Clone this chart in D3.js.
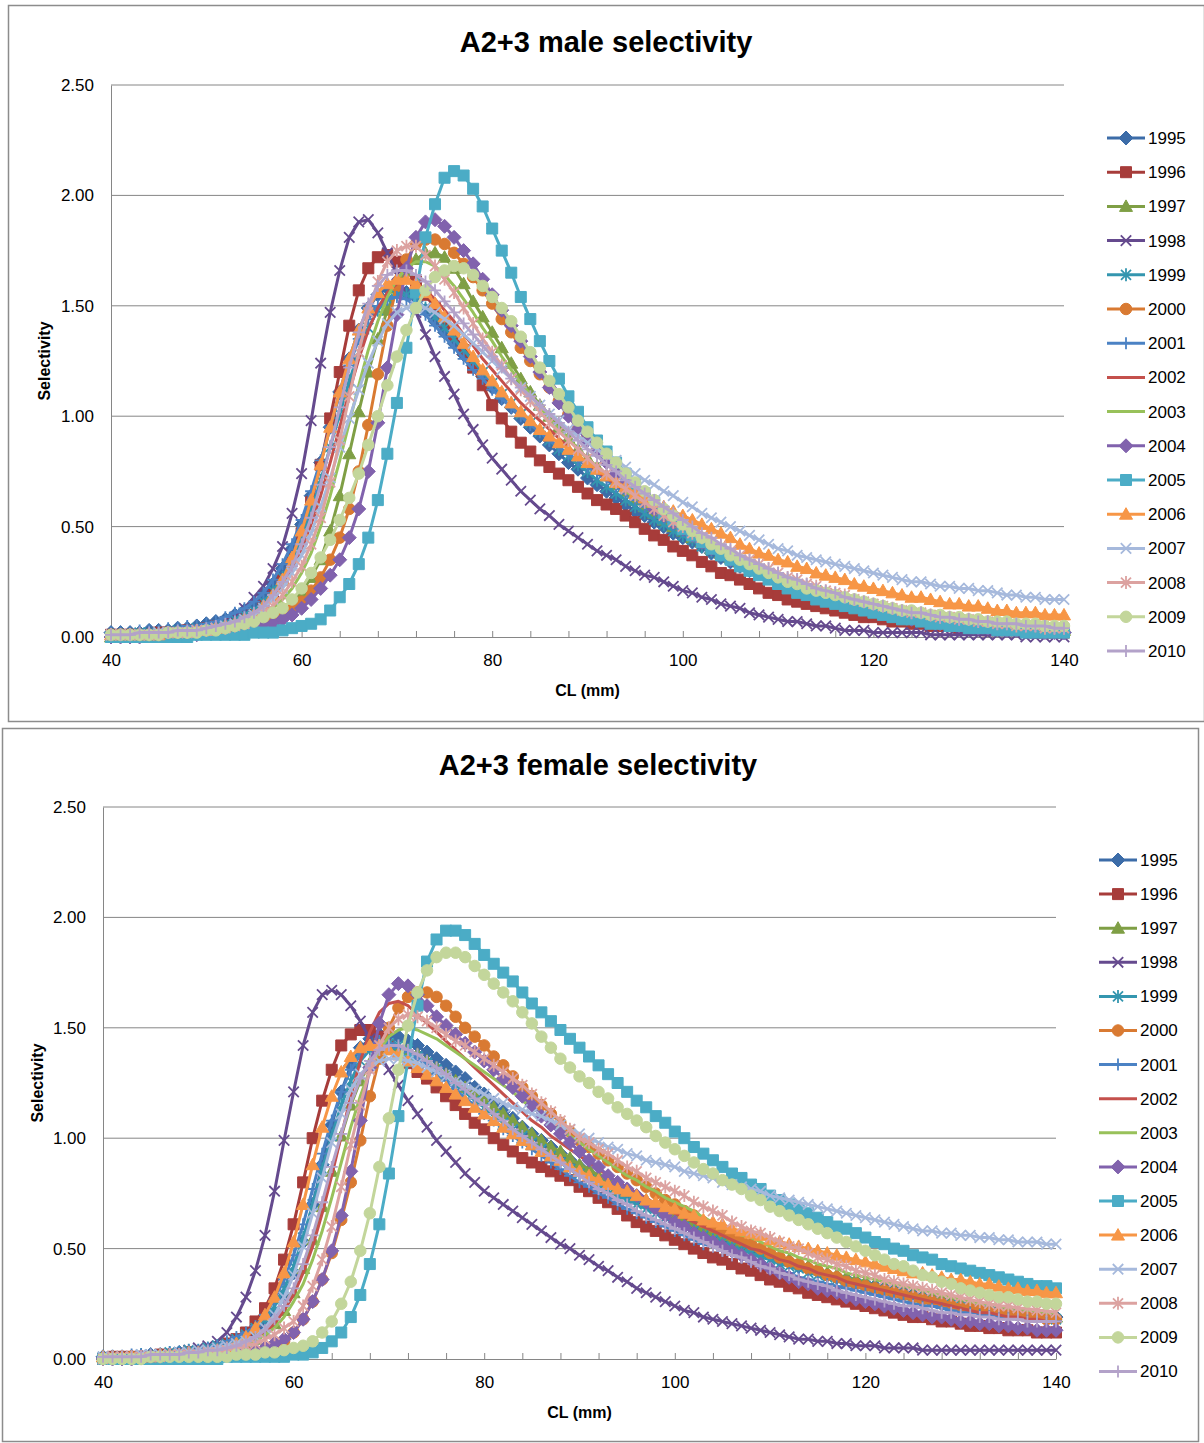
<!DOCTYPE html>
<html>
<head>
<meta charset="utf-8">
<script src="https://cdn.jsdelivr.net/npm/d3@7"></script>
<style>
body { margin:0; padding:0; background:#fff; overflow:hidden; }
svg text { font-family:'Liberation Sans', Arial, sans-serif; fill:#000; }
</style>
</head>
<body>
<svg id="chart" width="1204" height="1443"></svg>
<script>
// ===== categories / ticks =====
const lengths = d3.range(40, 141);                 // CL (mm), one point per mm
const years = [1995,1996,1997,1998,1999,2000,2001,2002,2003,2004,2005,2006,2007,2008,2009,2010];
const yTicks = [0, 0.5, 1, 1.5, 2, 2.5];
const xTickLabels = [40, 60, 80, 100, 120, 140];
const xMinorTicks = d3.range(40, 141, 4);

// ===== male selectivity (x100), CL 40..140 =====
const m1995 = [2,2,2,2,3,3,3,4,4,5, 6,7,8,10,12,15,19,24,31,40, 51,64,79,95,111,126,139,149,155,158, 158,156,152,148,143,138,133,128,123,118, 113,108,104,99,95,91,87,83,79,76, 72,69,66,63,60,57,55,52,50,47, 45,43,41,38,36,34,32,30,29,27, 25,24,22,21,19,18,17,16,15,14, 13,12,11,10,9,9,8,7,7,6, 6,5,5,4,4,4,3,3,3,3, 2];
const m1996 = [1,1,1,1,1,2,2,2,3,3, 4,5,6,7,8,10,14,19,26,35, 47,61,78,99,120,141,157,167,172,173, 170,166,161,155,149,143,137,130,122,114, 105,99,93,88,84,80,77,74,71,68, 65,62,60,58,55,52,49,46,44,41, 39,37,34,32,29,28,26,24,22,20, 19,17,16,15,14,13,12,11,10,9, 9,8,7,7,6,6,5,5,5,4, 4,4,3,3,3,3,3,2,2,2, 2];
const m1997 = [0,1,1,1,1,1,1,1,2,2, 2,3,3,4,5,6,8,10,13,16, 20,27,35,48,64,83,102,120,135,148, 158,166,171,174,174,172,167,160,152,145, 138,131,124,117,111,105,100,95,90,85, 81,77,73,69,66,62,59,56,53,50, 48,45,43,40,38,36,34,32,30,28, 26,25,23,22,20,19,18,17,16,15, 14,13,12,11,10,9,9,8,7,7, 6,6,5,5,5,4,4,4,3,3, 3];
const m1998 = [0,0,1,1,1,1,2,2,2,3, 4,5,7,9,13,18,23,31,41,56, 74,98,124,147,166,181,188,189,183,174, 164,155,147,137,127,118,110,101,94,87, 81,76,71,66,62,58,55,51,48,45, 42,39,37,35,32,30,28,27,25,23, 21,20,18,17,15,14,13,11,10,9, 8,7,7,6,5,5,4,3,3,3, 2,2,2,2,2,2,1,1,1,1, 1,1,1,1,1,1,0,0,0,0, 0];
const m1999 = [1,1,1,2,2,2,2,3,3,4, 4,5,6,8,10,12,16,21,27,35, 45,57,71,86,101,116,129,140,148,153, 155,155,153,149,145,140,135,130,125,120, 115,110,106,101,97,93,89,85,82,78, 75,71,68,65,62,59,56,53,51,48, 46,44,41,39,37,35,33,31,30,28, 26,25,23,22,21,19,18,17,16,15, 14,13,12,11,10,10,9,8,8,7, 6,6,6,5,5,4,4,4,3,3, 3];
const m2000 = [0,1,1,1,1,1,1,1,1,2, 2,2,3,3,4,5,6,8,10,13, 16,21,27,35,45,58,75,96,119,141, 159,171,178,180,180,178,174,169,163,157, 151,144,138,131,125,119,113,107,101,96, 91,86,81,77,72,68,64,60,57,53, 50,47,44,42,39,37,34,32,30,28, 26,25,23,21,20,19,17,16,15,14, 13,12,11,10,10,9,8,8,7,7, 6,6,5,5,5,4,4,4,3,3, 3];
const m2001 = [2,2,2,3,3,3,4,4,5,5, 6,7,9,11,13,16,20,26,33,42, 53,66,80,95,110,123,135,144,150,153, 154,153,150,146,141,136,131,126,121,117, 112,108,104,100,96,93,89,86,83,80, 77,74,71,68,65,62,59,56,54,51, 48,46,44,41,39,37,35,33,31,29, 27,26,24,23,21,20,19,17,16,15, 14,13,12,11,11,10,9,8,8,7, 7,6,6,5,5,5,4,4,4,3, 3];
const m2002 = [1,1,1,1,2,2,2,2,3,3, 4,4,5,7,8,11,14,18,24,31, 40,51,64,79,95,111,126,139,149,156, 160,161,160,157,153,148,143,137,132,126, 121,116,111,106,102,98,94,90,86,82, 79,75,72,69,66,63,60,57,54,52, 49,47,44,42,40,38,36,34,32,30, 28,27,25,24,22,21,20,18,17,16, 15,14,13,12,11,11,10,9,8,8, 7,7,6,6,5,5,5,4,4,4, 3];
const m2003 = [1,1,1,1,1,1,1,2,2,2, 3,3,4,5,6,8,10,13,17,22, 29,38,50,64,80,97,114,130,143,154, 162,167,170,170,168,164,159,153,147,140, 134,127,121,115,110,104,99,94,90,85, 81,77,73,70,66,63,60,57,54,51, 48,46,43,41,39,37,35,33,31,29, 27,26,24,23,21,20,19,18,17,16, 15,14,13,12,11,10,10,9,8,8, 7,7,6,6,5,5,5,4,4,4, 4];
const m2004 = [0,0,0,0,1,1,1,1,1,1, 2,2,2,3,3,4,5,6,8,10, 13,17,22,28,35,45,58,75,97,122, 146,167,181,188,189,186,181,175,169,162, 155,148,141,134,127,120,113,106,100,94, 89,84,79,74,70,66,62,58,55,52, 49,46,43,40,38,35,33,31,29,27, 25,23,22,20,19,17,16,15,14,13, 12,11,10,9,8,8,7,6,6,5, 5,4,4,4,3,3,3,3,2,2, 2];
const m2005 = [0,0,0,0,0,0,0,0,0,1, 1,1,1,1,1,2,2,2,3,4, 5,6,8,12,18,24,33,45,62,83, 106,131,156,181,196,208,211,209,203,195, 185,175,165,154,144,134,125,117,109,102, 95,89,84,79,74,69,65,61,56,53, 49,46,43,40,37,35,32,30,28,26, 24,22,20,19,17,16,15,14,13,12, 11,10,9,8,8,7,6,6,5,5, 4,4,4,3,3,3,2,2,2,2, 2];
const m2006 = [1,1,1,1,1,1,2,2,2,3, 3,4,5,6,8,10,14,19,26,36, 48,62,78,95,111,126,139,149,156,160, 162,162,160,156,151,145,139,133,127,121, 116,111,106,102,98,94,91,88,85,82, 79,76,73,70,68,65,63,61,59,57, 55,53,51,49,47,45,42,40,38,37, 35,34,32,31,29,28,27,26,24,23, 22,21,20,19,18,18,17,16,15,15, 14,14,13,12,12,11,11,11,10,10, 10];
const m2007 = [1,1,1,1,1,2,2,2,2,3, 3,4,5,6,8,10,13,17,22,29, 37,47,59,72,86,99,112,124,134,142, 147,149,150,149,147,144,141,137,133,129, 125,121,117,113,109,105,101,98,94,91, 88,85,82,80,77,74,71,69,66,64, 61,59,56,54,52,50,48,46,44,42, 40,39,37,36,35,34,33,32,31,30, 29,28,27,26,25,25,24,23,23,22, 22,21,21,20,19,19,18,18,17,17, 17];
const m2008 = [1,1,1,1,1,1,2,2,2,3, 3,4,4,5,6,8,11,14,19,25, 32,42,54,70,89,109,129,147,161,170, 175,177,177,173,168,162,156,149,142,135, 129,123,117,112,107,102,97,93,89,85, 81,77,74,70,67,64,61,58,55,52, 50,47,45,43,41,39,37,35,33,31, 29,27,26,24,23,21,20,19,17,16, 15,14,13,12,11,11,10,9,9,8, 8,7,7,6,6,5,5,5,4,4, 4];
const m2009 = [1,1,1,1,1,1,2,2,2,2, 3,3,4,5,6,7,9,11,13,17, 22,29,36,44,53,63,74,87,100,114, 127,139,149,157,163,166,168,167,164,159, 154,149,143,136,129,122,116,110,104,98, 93,88,83,79,74,70,66,62,58,55, 51,48,45,42,40,37,35,33,31,29, 27,25,24,22,21,20,19,18,17,16, 15,14,13,12,12,11,10,10,9,9, 8,8,7,7,7,6,6,6,5,5, 5];
const m2010 = [1,1,1,2,2,2,2,3,3,3, 4,5,6,7,9,11,14,19,25,32, 42,54,69,86,104,122,138,151,159,164, 166,166,164,161,157,152,147,142,137,132, 127,122,117,113,109,105,101,97,93,89, 85,82,78,75,71,68,65,62,59,56, 53,50,47,45,42,40,37,35,33,31, 29,27,26,24,22,21,20,18,17,16, 15,14,13,12,11,11,10,9,9,8, 8,7,7,6,6,6,5,5,5,4, 4];

// ===== female selectivity (x100), CL 40..140 =====
const f1995 = [1,1,1,1,1,2,2,2,3,3, 3,3,4,4,5,7,10,14,20,28, 39,53,70,88,106,121,133,141,145,147, 147,146,144,142,139,136,133,130,127,123, 120,116,112,109,105,102,99,96,93,90, 87,84,81,79,76,74,72,70,68,66, 64,62,60,58,56,54,53,51,50,48, 47,45,44,42,41,40,38,37,36,35, 34,33,32,31,30,29,28,27,26,25, 25,24,23,22,22,21,21,20,20,19, 19];
const f1996 = [0,1,1,1,1,1,2,2,2,3, 3,4,5,7,9,12,17,23,32,45, 61,80,100,117,131,142,147,149,149,146, 142,138,134,130,127,123,119,115,111,107, 104,100,97,94,91,89,87,85,83,81, 78,76,73,71,68,65,62,60,58,56, 54,52,50,48,46,45,43,41,40,38, 36,35,33,32,30,29,28,27,26,25, 24,23,22,21,20,19,19,18,17,17, 16,15,15,14,14,13,13,13,12,12, 12];
const f1997 = [1,1,1,1,1,1,2,2,2,2, 3,3,4,5,6,7,9,12,16,22, 30,41,54,69,85,101,115,126,134,139, 141,141,140,138,135,132,129,126,123,120, 117,114,111,108,105,102,99,96,94,91, 88,86,83,81,78,76,74,72,70,68, 66,64,62,60,58,56,54,53,51,49, 48,46,45,43,42,41,39,38,37,36, 35,33,32,31,30,29,28,28,27,26, 25,24,24,23,22,22,21,21,20,20, 19];
const f1998 = [0,0,1,1,1,1,2,2,3,4, 5,6,8,12,19,28,40,56,76,99, 121,142,157,165,167,165,160,153,145,138, 131,124,117,111,105,99,94,89,84,80, 76,73,70,67,64,61,58,55,52,50, 47,45,42,40,37,35,32,30,28,26, 24,22,21,19,18,17,16,15,14,13, 12,11,10,9,9,8,8,7,7,6, 6,6,5,5,5,5,4,4,4,4, 4,4,4,4,4,4,4,4,4,4, 4];
const f1999 = [1,1,1,1,2,2,2,3,3,4, 4,5,6,7,9,11,14,18,24,32, 42,55,70,86,101,115,126,135,140,143, 143,142,140,137,134,131,128,124,121,117, 114,110,107,104,101,98,95,92,89,86, 84,81,79,76,74,72,70,68,66,64, 62,60,58,56,54,53,51,49,48,46, 45,43,42,41,39,38,37,36,35,34, 33,32,31,30,29,28,27,26,25,25, 24,23,22,22,21,21,20,20,19,19, 18];
const f2000 = [0,0,0,1,1,1,1,1,1,1, 1,1,2,2,2,3,3,4,6,8, 12,18,26,36,48,63,80,99,119,136, 150,159,164,166,166,164,160,155,150,146, 142,137,133,128,123,119,115,111,107,103, 99,96,93,90,87,84,81,78,75,72, 70,67,65,62,60,58,56,54,52,50, 48,46,44,43,41,40,38,37,35,34, 33,32,31,30,29,28,27,26,25,24, 23,23,22,21,21,20,20,19,19,18, 18];
const f2001 = [1,1,1,2,2,2,2,3,3,4, 4,5,6,8,10,12,15,20,27,36, 47,61,77,93,108,121,131,138,142,144, 143,141,139,136,133,129,126,122,118,115, 111,108,104,101,98,95,92,89,86,83, 80,78,75,73,70,68,66,64,62,60, 58,56,54,52,51,49,47,46,44,43, 41,40,39,37,36,35,34,33,32,31, 30,29,28,27,26,25,24,24,23,22, 21,21,20,20,19,19,18,18,17,17, 17];
const f2002 = [0,1,1,1,1,1,1,2,2,2, 3,3,4,5,6,7,9,12,16,22, 29,39,51,66,83,101,119,135,148,157, 161,162,160,156,152,148,144,140,136,132, 128,124,120,116,112,108,105,101,98,95, 92,89,86,83,80,78,75,73,70,68, 66,64,62,60,58,56,54,52,50,49, 47,45,44,42,41,39,38,37,35,34, 33,32,31,30,29,28,27,26,25,24, 23,22,21,21,20,19,19,18,18,17, 17];
const f2003 = [0,1,1,1,1,1,1,2,2,2, 3,3,4,4,5,7,8,11,14,19, 26,34,45,58,73,89,105,119,131,140, 146,149,150,149,147,145,142,139,136,133, 130,127,124,121,117,114,111,108,104,101, 98,95,92,89,86,83,81,78,76,73, 71,69,67,64,62,60,58,56,55,53, 51,49,48,46,45,43,42,41,39,38, 37,36,35,34,33,32,31,30,29,28, 27,26,25,25,24,23,23,22,22,21, 21];
const f2004 = [0,0,0,0,1,1,1,1,1,1, 1,2,2,2,3,3,4,5,7,9, 12,18,26,36,49,65,85,108,132,152, 165,170,169,165,160,155,151,147,143,139, 135,131,127,123,119,115,110,106,102,98, 94,90,87,83,80,77,74,71,68,65, 62,60,57,55,53,51,49,47,45,43, 41,39,37,35,34,32,31,30,28,27, 26,25,24,23,22,21,20,19,19,18, 17,17,16,16,15,15,14,14,13,13, 13];
const f2005 = [0,0,0,0,0,0,0,0,0,0, 0,0,0,1,1,1,1,1,1,1, 2,2,3,5,8,12,19,29,43,61, 84,110,135,160,180,190,194,194,192,188, 183,179,175,171,166,161,157,153,149,145, 141,137,133,129,125,121,117,114,110,107, 103,100,96,93,90,87,84,82,79,77, 74,72,70,68,66,64,62,60,59,57, 55,53,52,50,49,47,46,45,43,42, 41,40,39,38,37,36,35,34,33,33, 32];
const f2006 = [1,1,1,1,1,1,2,2,2,3, 3,3,4,5,7,10,14,20,28,39, 53,70,88,105,119,130,137,141,142,142, 140,138,135,132,129,126,123,120,117,114, 111,108,105,102,99,97,94,92,90,87, 85,83,81,79,77,76,74,72,71,69, 68,66,65,63,62,61,59,58,57,56, 54,53,52,51,50,49,48,47,46,45, 44,43,42,41,40,39,39,38,37,36, 36,35,34,34,33,32,32,31,31,30, 30];
const f2007 = [1,1,1,1,2,2,2,2,3,3, 4,4,5,6,7,8,10,14,20,28, 38,51,66,82,98,111,122,129,133,135, 136,136,135,134,132,130,128,126,124,122, 120,118,116,114,113,111,110,108,106,104, 102,100,98,96,95,93,92,90,89,88, 87,85,84,83,82,80,79,78,77,76, 74,73,72,71,70,69,68,67,66,65, 64,63,62,61,60,59,58,58,57,57, 56,56,55,55,54,54,53,53,53,52, 52];
const f2008 = [0,1,1,1,1,1,1,2,2,2, 2,3,3,4,5,6,7,9,11,14, 17,24,33,45,60,78,97,115,131,142, 150,154,156,155,153,150,147,144,142,139, 136,133,130,127,124,120,116,112,108,104, 100,98,95,93,90,87,85,82,80,78, 76,74,71,69,67,65,62,60,58,57, 55,53,51,50,48,46,45,43,42,40, 39,38,36,35,34,33,32,31,30,29, 28,27,26,25,24,24,23,23,22,22, 21];
const f2009 = [0,0,0,0,0,1,1,1,1,1, 1,1,1,1,2,2,2,3,3,4, 5,6,8,12,17,25,35,49,66,87, 109,131,151,166,176,182,184,184,182,178, 174,170,166,162,157,152,146,141,136,132, 128,125,121,118,114,111,108,105,101,98, 95,92,89,86,84,81,79,77,74,72, 69,67,65,63,61,59,57,55,53,51, 49,47,45,43,42,40,38,37,35,34, 32,31,30,29,28,28,27,26,26,25, 25];
const f2010 = [1,1,1,1,1,2,2,2,2,3, 3,4,4,5,6,8,10,13,18,24, 32,43,56,71,87,102,116,127,135,140, 142,142,140,138,135,132,129,125,122,118, 115,111,108,104,101,98,95,92,89,86, 83,80,77,75,72,70,67,65,63,61, 59,57,55,53,51,49,47,46,44,42, 41,39,38,36,35,34,33,31,30,29, 28,27,26,25,24,24,23,22,21,21, 20,20,19,19,18,18,18,17,17,17, 17];

const maleSeries   = [m1995,m1996,m1997,m1998,m1999,m2000,m2001,m2002,m2003,m2004,m2005,m2006,m2007,m2008,m2009,m2010];
const femaleSeries = [f1995,f1996,f1997,f1998,f1999,f2000,f2001,f2002,f2003,f2004,f2005,f2006,f2007,f2008,f2009,f2010];

// ===== style =====
const colors  = ['#3C6CA8','#A73C3A','#7F9F45','#654A8E','#3496AF','#D97A32','#4B82C4','#C4504C',
                 '#98C15A','#8162AD','#4BACC6','#F79646','#A6B9DC','#DCA2A0','#C3D69B','#B3A2C9'];
const markers = ['diamond','square','triangle','x','star','circle','plus','none',
                 'none','diamond','square','triangle','x','star','circle','plus'];
const gridColor = '#868686';

[maleSeries, femaleSeries].forEach(s => s.forEach((a, i) => {
  if (a.length !== lengths.length) console.error('bad length', years[i], a.length);
}));

const markerPath = t => {
  switch (t) {
    case 'diamond':  return 'M0,-7L7,0L0,7L-7,0Z';
    case 'square':   return 'M-5.5,-5.5H5.5V5.5H-5.5Z';
    case 'triangle': return 'M0,-6.5L6.5,5H-6.5Z';
    case 'circle':   return d3.symbol(d3.symbolCircle, Math.PI * 33)();
    case 'x':        return 'M-5.2,-5.2L5.2,5.2M-5.2,5.2L5.2,-5.2';
    case 'star':     return 'M-5,-5L5,5M-5,5L5,-5M0,-6.5V6.5';
    case 'plus':     return 'M0,-6V6M-6,0H6';
  }
  return null;
};
const isOpen = t => t === 'x' || t === 'star' || t === 'plus';

const svg = d3.select('#chart');
svg.append('rect').attr('width', 1204).attr('height', 1443).attr('fill', '#fff');

const panels = [
  { title:'A2+3 male selectivity', data:maleSeries, box:[8.5,5.5,1196,716],
    left:111, right:1064, top:85, bottom:637, titleX:606, titleY:42,
    legendX:1107, legendY:138, legendStep:34.2, yTitleX:44, xTitleY:690 },
  { title:'A2+3 female selectivity', data:femaleSeries, box:[2.5,728.5,1196,713],
    left:103, right:1056, top:807, bottom:1359, titleX:598, titleY:765,
    legendX:1099, legendY:860, legendStep:34.1, yTitleX:37, xTitleY:1412 }
];

const drawPanel = p => {
  const g = svg.append('g');
  const x = d3.scaleLinear().domain([40, 140]).range([p.left, p.right]);
  const y = d3.scaleLinear().domain([0, 2.5]).range([p.bottom, p.top]);

  // outer frame
  g.append('rect').attr('x', p.box[0]).attr('y', p.box[1]).attr('width', p.box[2]).attr('height', p.box[3])
    .attr('fill', 'none').attr('stroke', '#8c8c8c').attr('stroke-width', 1.5);

  // title
  g.append('text').attr('x', p.titleX).attr('y', p.titleY).attr('dy', '.35em')
    .attr('text-anchor', 'middle').attr('font-size', 29).attr('font-weight', 'bold').text(p.title);

  // gridlines
  g.append('g').selectAll('line').data(yTicks.filter(d => d > 0)).join('line')
    .attr('x1', p.left).attr('x2', p.right)
    .attr('y1', d => y(d)).attr('y2', d => y(d))
    .attr('stroke', gridColor).attr('stroke-width', 1);

  // y axis
  const ya = g.append('g').attr('transform', `translate(${p.left},0)`)
    .call(d3.axisLeft(y).tickValues(yTicks).tickSize(0).tickSizeOuter(0).tickPadding(17).tickFormat(d3.format('.2f')));
  ya.select('.domain').attr('stroke', gridColor);
  ya.selectAll('text').attr('font-family', "'Liberation Sans', Arial, sans-serif").attr('font-size', 17);

  // x axis: minor ticks every 4 mm (pointing up), labels every 20 mm
  const xt = g.append('g').attr('transform', `translate(0,${p.bottom})`)
    .call(d3.axisBottom(x).tickValues(xMinorTicks).tickSize(-6).tickSizeOuter(0).tickFormat(''));
  xt.select('.domain').attr('stroke', gridColor);
  xt.selectAll('.tick line').attr('stroke', gridColor);
  const xl = g.append('g').attr('transform', `translate(0,${p.bottom})`)
    .call(d3.axisBottom(x).tickValues(xTickLabels).tickSize(0).tickPadding(17).tickFormat(d3.format('d')));
  xl.select('.domain').remove();
  xl.selectAll('text').attr('font-family', "'Liberation Sans', Arial, sans-serif").attr('font-size', 17);

  // axis titles
  g.append('text').attr('x', (p.left + p.right) / 2).attr('y', p.xTitleY).attr('dy', '.35em')
    .attr('text-anchor', 'middle').attr('font-size', 16).attr('font-weight', 'bold').text('CL (mm)');
  g.append('text').attr('transform', `translate(${p.yTitleX},${(p.top + p.bottom) / 2}) rotate(-90)`)
    .attr('dy', '.35em').attr('text-anchor', 'middle').attr('font-size', 16).attr('font-weight', 'bold')
    .text('Selectivity');

  // series (drawn in legend order, later years on top)
  const line = d3.line().x((d, i) => x(lengths[i])).y(d => y(d / 100));
  p.data.forEach((vals, i) => {
    const s = g.append('g');
    s.append('path').attr('d', line(vals)).attr('fill', 'none')
      .attr('stroke', colors[i]).attr('stroke-width', 3).attr('stroke-linejoin', 'round');
    const mp = markerPath(markers[i]);
    if (!mp) return;
    s.selectAll('path.mk').data(vals).join('path').attr('class', 'mk')
      .attr('transform', (d, j) => `translate(${x(lengths[j])},${y(d / 100)})`)
      .attr('d', mp)
      .attr('fill', isOpen(markers[i]) ? 'none' : colors[i])
      .attr('stroke', colors[i]).attr('stroke-width', isOpen(markers[i]) ? 1.8 : 1);
  });

  // legend
  const lg = g.append('g');
  years.forEach((yr, i) => {
    const ly = p.legendY + i * p.legendStep;
    lg.append('line').attr('x1', p.legendX).attr('x2', p.legendX + 38).attr('y1', ly).attr('y2', ly)
      .attr('stroke', colors[i]).attr('stroke-width', 3);
    const mp = markerPath(markers[i]);
    if (mp) {
      lg.append('path').attr('d', mp).attr('transform', `translate(${p.legendX + 19},${ly})`)
        .attr('fill', isOpen(markers[i]) ? 'none' : colors[i])
        .attr('stroke', colors[i]).attr('stroke-width', isOpen(markers[i]) ? 1.8 : 1);
    }
    lg.append('text').attr('x', p.legendX + 41).attr('y', ly).attr('dy', '.35em')
      .attr('font-size', 17).text(yr);
  });
};

panels.forEach(drawPanel);
</script>
</body>
</html>
